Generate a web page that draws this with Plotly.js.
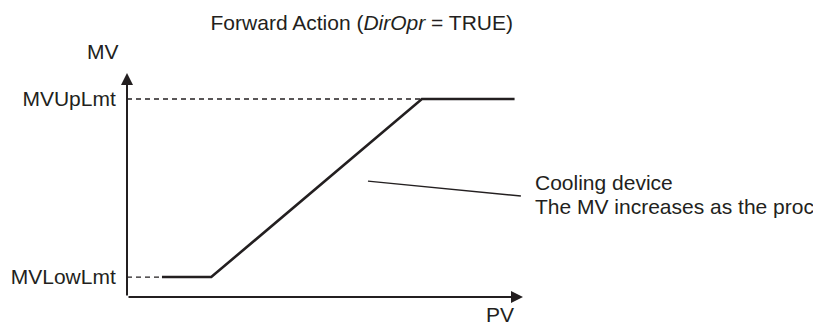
<!DOCTYPE html>
<html>
<head>
<meta charset="utf-8">
<script src="https://cdn.plot.ly/plotly-3.0.1.min.js"></script>
<style>
  html, body { margin: 0; padding: 0; background: #ffffff; }
  #chart { width: 813px; height: 325px; }
</style>
</head>
<body>
<div id="chart"></div>
<script>
// Curva de acción directa: MV en función de PV
const pvPoints = [8.3, 20, 70, 92];
const mvPoints = [0, 0, 100, 100];

// Límites de MV y sus etiquetas
const mvLimits = [0, 100];
const limitLabels = ['MVLowLmt', 'MVUpLmt'];

// Rango de los ejes (unidades PV / MV)
const pvRange = [0, 94];
const mvRange = [-11.2, 114.6];

const ink = '#231f20';
const fontFamily = 'Liberation Sans, Arial, Helvetica, sans-serif';

const data = [];

// Líneas discontinuas desde el eje hasta la curva en cada límite
mvLimits.forEach(lim => {
    const idx = mvPoints.indexOf(lim);
    data.push({
        type: 'scatter',
        mode: 'lines',
        x: [pvRange[0], pvPoints[idx]],
        y: [lim, lim],
        line: { color: ink, width: 1.3, dash: '5px,4px' },
        hoverinfo: 'none',
        showlegend: false
    });
});

// Curva principal
data.push({
    type: 'scatter',
    mode: 'lines',
    x: pvPoints,
    y: mvPoints,
    line: { color: ink, width: 2.6 },
    hoverinfo: 'none',
    showlegend: false
});

// Línea de la llamada
data.push({
    type: 'scatter',
    mode: 'lines',
    x: [57.2, 93.5],
    y: [53.9, 45.5],
    line: { color: ink, width: 1.4 },
    hoverinfo: 'none',
    showlegend: false
});

const annotations = [
    // Eje X con flecha
    {
        x: pvRange[1], y: mvRange[0], ax: pvRange[0], ay: mvRange[0],
        xref: 'x', yref: 'y', axref: 'x', ayref: 'y',
        text: '', showarrow: true, arrowhead: 2, arrowsize: 1.2, arrowwidth: 2, arrowcolor: ink, standoff: 0
    },
    // Eje Y con flecha
    {
        x: pvRange[0], y: mvRange[1], ax: pvRange[0], ay: mvRange[0],
        xref: 'x', yref: 'y', axref: 'x', ayref: 'y',
        text: '', showarrow: true, arrowhead: 2, arrowsize: 1.2, arrowwidth: 2, arrowcolor: ink, standoff: 0
    },
    // Textos fuera del área de trazado (coordenadas de papel)
    { x: -0.061, y: 1.094, xref: 'paper', yref: 'paper', text: 'MV', showarrow: false, xanchor: 'center', yanchor: 'middle' },
    { x: 0.942, y: -0.080, xref: 'paper', yref: 'paper', text: 'PV', showarrow: false, xanchor: 'center', yanchor: 'middle' },
    { x: 1.025, y: 0.513, xref: 'paper', yref: 'paper', text: 'Cooling device', showarrow: false, xanchor: 'left', yanchor: 'middle' },
    { x: 1.025, y: 0.402, xref: 'paper', yref: 'paper', text: 'The MV increases as the process value increases.', showarrow: false, xanchor: 'left', yanchor: 'middle' }
];

const layout = {
    width: 813,
    height: 325,
    margin: { l: 127, r: 290, t: 73, b: 28 },
    paper_bgcolor: '#ffffff',
    plot_bgcolor: '#ffffff',
    font: { family: fontFamily, size: 21, color: ink },
    title: {
        text: 'Forward Action (<i>DirOpr</i> = TRUE)',
        x: 0.445, xanchor: 'center', xref: 'container',
        y: 0.929, yanchor: 'middle',
        font: { size: 21, color: ink }
    },
    xaxis: {
        range: pvRange,
        showgrid: false, zeroline: false, showline: false,
        showticklabels: false, ticks: '', fixedrange: true
    },
    yaxis: {
        range: mvRange,
        showgrid: false, zeroline: false, showline: false,
        tickvals: mvLimits, ticktext: limitLabels,
        ticks: 'outside', ticklen: 6, tickcolor: 'rgba(0,0,0,0)',
        fixedrange: true
    },
    annotations: annotations,
    showlegend: false
};

Plotly.newPlot('chart', data, layout, { displayModeBar: false, staticPlot: true });
</script>
</body>
</html>
